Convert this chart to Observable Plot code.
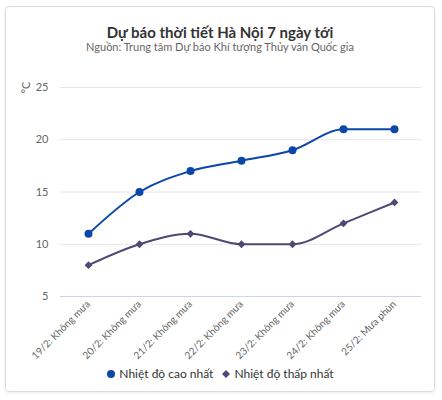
<!DOCTYPE html>
<html>
<head>
<meta charset="utf-8">
<script src="https://cdn.jsdelivr.net/npm/d3@7"></script>
<script src="https://cdn.jsdelivr.net/npm/@observablehq/plot@0.6"></script>
<style>
  body { margin: 0; background: #fff; font-family: Lato, "Noto Sans", sans-serif; }
  #card {
    position: absolute; left: 5px; top: 6px; width: 430px; height: 386px;
    box-sizing: border-box; border: 1px solid #dcdcdc; border-radius: 4px;
    box-shadow: 0 1px 3px rgba(0,0,0,0.08);
  }
  #title {
    position: absolute; left: 0; right: 0; top: 16px; line-height: 18px;
    text-align: center; font-size: 15px; font-weight: bold; color: #333;
  }
  #subtitle {
    position: absolute; left: 0; right: 0; top: 33px; line-height: 14px;
    text-align: center; font-size: 11px; color: #666;
  }
  #chart { position: absolute; left: 0; top: 56px; }
  #legend {
    position: absolute; left: 0; right: 0; top: 359px; line-height: 16px;
    text-align: center; font-size: 12px; color: #333;
  }
  #legend span { margin: 0 4px; }
  #legend svg { vertical-align: -1px; margin-right: 3px; }
</style>
</head>
<body>
<div id="card">
  <div id="title">Dự báo thời tiết Hà Nội 7 ngày tới</div>
  <div id="subtitle">Nguồn: Trung tâm Dự báo Khí tượng Thủy văn Quốc gia</div>
  <div id="chart"></div>
  <div id="legend"></div>
</div>
<script>
const days = ["19/2: Không mưa", "20/2: Không mưa", "21/2: Không mưa", "22/2: Không mưa",
              "23/2: Không mưa", "24/2: Không mưa", "25/2: Mưa phùn"];
const highTemps = [11, 15, 17, 18, 19, 21, 21];
const lowTemps = [8, 10, 11, 10, 10, 12, 14];
const yTicks = [5, 10, 15, 20, 25];
const seriesNames = ["Nhiệt độ cao nhất", "Nhiệt độ thấp nhất"];
const seriesColors = ["#0b47a8", "#4f4775"];

const high = days.map((d, i) => ({day: d, t: highTemps[i]}));
const low = days.map((d, i) => ({day: d, t: lowTemps[i]}));

const chart = Plot.plot({
  width: 428,
  height: 300,
  marginLeft: 54,
  marginRight: 13,
  marginTop: 24,
  marginBottom: 67,
  style: {fontFamily: "Lato, 'Noto Sans', sans-serif", fontSize: "10px", color: "#666"},
  x: {type: "point", domain: days, padding: 0.5},
  y: {domain: [5, 25]},
  marks: [
    Plot.gridY(yTicks.slice(1), {stroke: "#e6e6e6", strokeOpacity: 1}),
    Plot.ruleY([5], {stroke: "#ccd6eb"}),
    Plot.axisY({ticks: yTicks, tickSize: 0, tickPadding: 12, label: null, fontSize: 11, fill: "#666"}),
    Plot.axisX({tickRotate: -45, tickSize: 0, tickPadding: 6, label: null, fontSize: 10, fill: "#666"}),
    Plot.text(["°C"], {frameAnchor: "top-left", textAnchor: "middle", dx: -38, rotate: -90, fontSize: 11, fill: "#666"}),
    Plot.line(high, {x: "day", y: "t", stroke: seriesColors[0], strokeWidth: 2, curve: "monotone-x"}),
    Plot.line(low, {x: "day", y: "t", stroke: seriesColors[1], strokeWidth: 2, curve: "monotone-x"}),
    Plot.dot(high, {x: "day", y: "t", fill: seriesColors[0], r: 4}),
    Plot.dot(low, {x: "day", y: "t", fill: seriesColors[1], symbol: "diamond2", r: 3.5})
  ]
});
document.getElementById("chart").append(chart);

const icons = [
  '<svg width="10" height="10"><circle cx="5" cy="5" r="4" fill="' + seriesColors[0] + '"/></svg>',
  '<svg width="10" height="10"><path d="M5 1L9 5L5 9L1 5Z" fill="' + seriesColors[1] + '"/></svg>'
];
document.getElementById("legend").innerHTML = seriesNames
  .map((n, i) => '<span>' + icons[i] + n + '</span>').join("");
</script>
</body>
</html>
